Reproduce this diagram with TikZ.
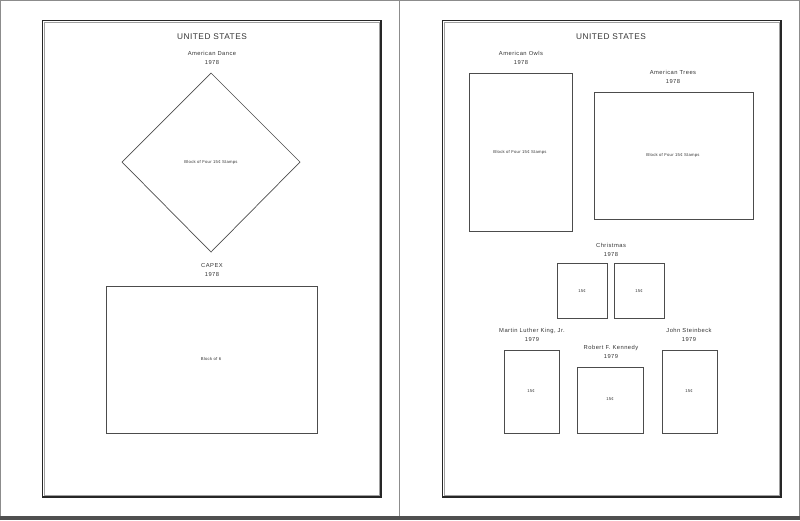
\documentclass[tikz,border=0pt]{standalone}
\usepackage{fontspec}
\setmainfont{Liberation Sans}
\definecolor{pagegray}{HTML}{8C8C8C}
\definecolor{bandgray}{HTML}{505050}
\definecolor{framegray}{HTML}{A0A0A0}
\definecolor{inkgray}{HTML}{333333}

\begin{document}
\begin{tikzpicture}[x=1pt, y=-1pt, line width=0.6,
    pagetitle/.style={font=\fontsize{8.3}{10}\selectfont\addfontfeatures{LetterSpace=6}, text=inkgray},
    caption/.style={font=\fontsize{5.8}{9.5}\selectfont\addfontfeatures{LetterSpace=8}, align=center, inner sep=0, text=inkgray},
    stamptext/.style={font=\fontsize{4.2}{4}\selectfont\addfontfeatures{LetterSpace=6}, inner sep=0, text=inkgray},
    stampbox/.style={draw=black!70, line width=0.7}]
		\useasboundingbox (0,0) rectangle (800,520);
		% sheet edges
		\draw[pagegray, line width=1] (0.5,520) -- (0.5,0.5) -- (799.5,0.5) -- (799.5,520);
		\draw[pagegray, line width=1] (399.5,0) -- (399.5,516);
		\fill[bandgray] (0,515.5) rectangle (800,520);
		% double frames
		\foreach \x in {42,442} {
			\draw[black!85, line width=1.5] (\x+0.5,20.5) rectangle (\x+339,497);
			\draw[framegray, line width=0.8] (\x+2.5,22.5) rectangle (\x+337,495);
		}
		% left page
		\node[pagetitle] (titleL) at (212,37) {UNITED STATES};
		\node[caption] (danceC) at (212,58) {American Dance\\1978};
		\draw[stampbox] (211,73) -- (300,162) -- (211,252) -- (122,162) -- cycle;
		\node[stamptext] (danceT) at (211,162) {Block of Four 15¢ Stamps};
		\node[caption] (capexC) at (212,270) {CAPEX\\1978};
		\draw[stampbox] (106,286) rectangle (317,433);
		\node[stamptext] (capexT) at (211,359) {Block of 6};
		% right page
		\node[pagetitle] (titleR) at (611,37) {UNITED STATES};
		\node[caption] (owlsC) at (521,58) {American Owls\\1978};
		\draw[stampbox] (469,73) rectangle (572,231);
		\node[stamptext] (owlsT) at (520,152) {Block of Four 15¢ Stamps};
		\node[caption] (treesC) at (673,77) {American Trees\\1978};
		\draw[stampbox] (594,92) rectangle (753,219);
		\node[stamptext] (treesT) at (673,155) {Block of Four 15¢ Stamps};
		\node[caption] (xmasC) at (611,250) {Christmas\\1978};
		\draw[stampbox] (557,263) rectangle (607,318);
		\draw[stampbox] (614,263) rectangle (664,318);
		\node[stamptext] (xmasA) at (582,291) {15¢};
		\node[stamptext] (xmasB) at (639,291) {15¢};
		\node[caption] (mlkC) at (532,335) {Martin Luther King, Jr.\\1979};
		\draw[stampbox] (504,350) rectangle (559,433);
		\node[stamptext] (mlkT) at (531,391) {15¢};
		\node[caption] (rfkC) at (611,352) {Robert F. Kennedy\\1979};
		\draw[stampbox] (577,367) rectangle (643,433);
		\node[stamptext] (rfkT) at (610,399) {15¢};
		\node[caption] (jsC) at (689,335) {John Steinbeck\\1979};
		\draw[stampbox] (662,350) rectangle (717,433);
		\node[stamptext] (jsT) at (689,391) {15¢};
	\end{tikzpicture}
\end{document}
